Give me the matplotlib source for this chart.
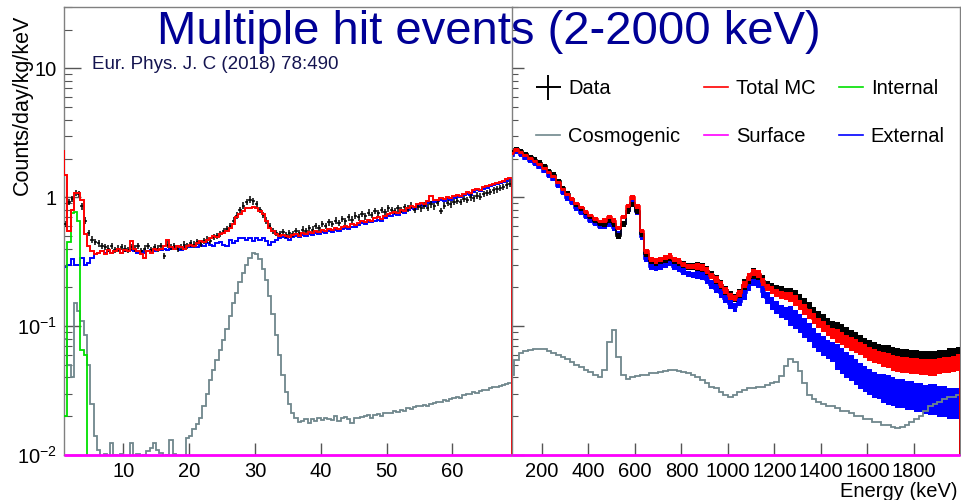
import numpy as np
import matplotlib
matplotlib.use("Agg")
import matplotlib.pyplot as plt
from matplotlib.lines import Line2D
from matplotlib.ticker import FixedLocator, FixedFormatter, LogLocator, NullFormatter

plt.rcParams['font.family'] = ['Liberation Sans', 'DejaVu Sans']
plt.rcParams['mathtext.fontset'] = 'custom'
plt.rcParams['mathtext.rm'] = 'Liberation Sans'
plt.rcParams['mathtext.it'] = 'Liberation Sans:italic'
plt.rcParams['mathtext.bf'] = 'Liberation Sans:bold'

# ---- low energy part, 0.5 keV bins from 0.5 to 69 keV ----
lo_edges = np.arange(0.5, 69.01, 0.5)

mc_low = [
    2.3, 1.5, 0.55, 0.80, 1.08, 1.08, 0.95, 0.52, 0.42, 0.38,
    0.36, 0.37, 0.38, 0.36, 0.39, 0.37, 0.38, 0.40, 0.37, 0.39,
    0.38, 0.46, 0.40, 0.38, 0.36, 0.34, 0.38, 0.37, 0.40, 0.39,
    0.40, 0.42, 0.47, 0.41, 0.40, 0.42, 0.41, 0.40, 0.42, 0.43,
    0.42, 0.44, 0.46, 0.45, 0.47, 0.48, 0.50, 0.49, 0.52, 0.53,
    0.55, 0.58, 0.62, 0.70, 0.74, 0.79, 0.82, 0.83, 0.84, 0.82,
    0.78, 0.74, 0.66, 0.58, 0.55, 0.52, 0.50, 0.51, 0.50, 0.49,
    0.51, 0.52, 0.50, 0.53, 0.52, 0.54, 0.53, 0.55, 0.54, 0.56,
    0.55, 0.57, 0.56, 0.58, 0.57, 0.59, 0.60, 0.59, 0.62, 0.61,
    0.63, 0.65, 0.64, 0.67, 0.66, 0.69, 0.70, 0.68, 0.72, 0.74,
    0.75, 0.77, 0.76, 0.80, 0.79, 0.83, 0.85, 0.84, 0.88, 0.90,
    0.89, 0.93, 1.03, 0.95, 0.96, 0.98, 0.97, 1.00, 0.99, 1.02,
    1.04, 1.03, 1.07, 1.10, 1.08, 1.13, 1.16, 1.14, 1.20, 1.22,
    1.25, 1.27, 1.30, 1.32, 1.35, 1.38, 1.42]

ext_low = [
    0.27, 0.29, 0.30, 0.33, 0.30, 0.30, 0.34, 0.30, 0.31, 0.34,
    0.36, 0.37, 0.38, 0.37, 0.38, 0.37, 0.38, 0.39, 0.37, 0.38,
    0.38, 0.39, 0.38, 0.37, 0.38, 0.37, 0.38, 0.39, 0.38, 0.39,
    0.39, 0.40, 0.39, 0.40, 0.41, 0.40, 0.39, 0.41, 0.42, 0.41,
    0.42, 0.41, 0.43, 0.42, 0.44, 0.43, 0.42, 0.44, 0.45, 0.43,
    0.42, 0.47, 0.44, 0.46, 0.48, 0.48, 0.47, 0.48, 0.46, 0.48,
    0.47, 0.48, 0.46, 0.43, 0.45, 0.47, 0.48, 0.49, 0.48, 0.47,
    0.49, 0.50, 0.49, 0.51, 0.50, 0.52, 0.51, 0.53, 0.52, 0.54,
    0.53, 0.55, 0.54, 0.56, 0.55, 0.57, 0.58, 0.57, 0.59, 0.59,
    0.61, 0.63, 0.62, 0.64, 0.64, 0.66, 0.67, 0.66, 0.69, 0.71,
    0.72, 0.74, 0.73, 0.77, 0.76, 0.80, 0.82, 0.81, 0.85, 0.87,
    0.86, 0.90, 0.92, 0.92, 0.93, 0.95, 0.94, 0.97, 0.96, 0.99,
    1.01, 1.00, 1.04, 1.07, 1.05, 1.10, 1.13, 1.11, 1.17, 1.19,
    1.22, 1.24, 1.27, 1.29, 1.32, 1.35, 1.38]

data_low = [
    np.nan, 0.62, 0.92, 0.97, 1.08, 1.06, 0.85, 0.66, 0.53, 0.47,
    0.45, 0.44, 0.42, 0.41, 0.40, 0.42, 0.39, 0.40, 0.41, 0.40,
    0.39, 0.41, 0.40, 0.42, 0.38, 0.40, 0.42, 0.39, 0.41, 0.40,
    0.42, 0.35, 0.43, 0.41, 0.42, 0.40, 0.41, 0.43, 0.42, 0.44,
    0.43, 0.45, 0.44, 0.46, 0.47, 0.46, 0.49, 0.50, 0.52, 0.55,
    0.57, 0.60, 0.66, 0.72, 0.80, 0.86, 0.92, 0.96, 0.93, 0.88,
    0.80, 0.73, 0.66, 0.60, 0.55, 0.53, 0.52, 0.54, 0.51, 0.53,
    0.52, 0.55, 0.53, 0.56, 0.55, 0.58, 0.56, 0.60, 0.58, 0.62,
    0.60, 0.64, 0.62, 0.66, 0.63, 0.68, 0.65, 0.70, 0.67, 0.72,
    0.70, 0.74, 0.71, 0.76, 0.73, 0.78, 0.75, 0.80, 0.77, 0.82,
    0.80, 0.78, 0.82, 0.80, 0.84, 0.82, 0.86, 0.80, 0.84, 0.82,
    0.86, 0.83, 0.88, 0.85, 0.90, 0.78, 0.86, 0.90, 0.88, 0.92,
    0.94, 0.92, 0.97, 0.95, 1.00, 0.98, 1.03, 1.01, 1.06, 1.08,
    1.10, 1.13, 1.15, 1.18, 1.20, 1.24, 1.28]

cosmo_low = [
    0.09, 0.08, 0.05, 0.04, 0.15, 0.13, 0.11, 0.085, 0.05, 0.025,
    0.014, 0.011, 0.0095, 0.0102, 0.0098, 0.0125, 0.0100, 0.0096, 0.0101, 0.0099,
    0.0097, 0.0123, 0.0098, 0.0102, 0.0095, 0.0100, 0.0108, 0.0114, 0.0125, 0.0110,
    0.0104, 0.0098, 0.0100, 0.0130, 0.0101, 0.0096, 0.0099, 0.0095, 0.0135, 0.0140,
    0.0160, 0.0175, 0.0195, 0.024, 0.030, 0.038, 0.046, 0.055, 0.065, 0.078,
    0.095, 0.12, 0.15, 0.18, 0.22, 0.26, 0.30, 0.34, 0.37, 0.365,
    0.33, 0.28, 0.23, 0.17, 0.125, 0.085, 0.060, 0.042, 0.031, 0.025,
    0.021, 0.0195, 0.018, 0.0185, 0.019, 0.0178, 0.0190, 0.0185, 0.0192, 0.0188,
    0.0195, 0.019, 0.0188, 0.0200, 0.0185, 0.0192, 0.0198, 0.019, 0.0178, 0.0195,
    0.0195, 0.0198, 0.020, 0.0205, 0.0195, 0.0203, 0.0208, 0.020, 0.021, 0.0212,
    0.021, 0.0218, 0.0214, 0.0225, 0.022, 0.0232, 0.0228, 0.0236, 0.024, 0.0238,
    0.0245, 0.0242, 0.025, 0.0255, 0.026, 0.0256, 0.0265, 0.0262, 0.027, 0.0275,
    0.028, 0.0278, 0.029, 0.0295, 0.030, 0.031, 0.0305, 0.0315, 0.032, 0.0322,
    0.033, 0.0335, 0.034, 0.0345, 0.035, 0.0355, 0.036]

# internal (L/K shell lines) only shows up below 5 keV
internal_edges = lo_edges[:11]
internal_low = [0.02, 0.02, 0.45, 0.75, 0.77, 0.66, 0.065, 0.06, 0.0, 0.0]

surface_low_edges = [1.0, 69.0]
surface_low = [0.01]

# ---- high energy part, 20 keV bins from 60 to 2000 keV ----
hi_edges = np.arange(60, 2001, 20)

mc_high = [
    2.2, 2.33, 2.22, 2.1, 2.0, 1.9, 1.8, 1.68, 1.55, 1.45,
    1.3, 1.15, 1.05, 0.97, 0.89, 0.83, 0.77, 0.72, 0.68, 0.65,
    0.66, 0.70, 0.66, 0.58, 0.70, 0.86, 1.0, 0.85, 0.55, 0.38,
    0.33, 0.32, 0.33, 0.34, 0.35, 0.33, 0.32, 0.30, 0.29, 0.29,
    0.29, 0.285, 0.27, 0.245, 0.23, 0.21, 0.19, 0.17, 0.165, 0.18,
    0.21, 0.24, 0.26, 0.255, 0.22, 0.2, 0.19, 0.18, 0.175, 0.172,
    0.168, 0.158, 0.146, 0.135, 0.124, 0.114, 0.106, 0.099, 0.093, 0.088,
    0.084, 0.080, 0.076, 0.073, 0.070, 0.067, 0.064, 0.061, 0.059, 0.057,
    0.055, 0.054, 0.052, 0.051, 0.050, 0.050, 0.049, 0.049, 0.048, 0.048,
    0.048, 0.048, 0.049, 0.050, 0.050, 0.051, 0.052]

data_high = [
    2.25, 2.38, 2.28, 2.17, 2.06, 1.96, 1.86, 1.74, 1.6, 1.5,
    1.34, 1.18, 1.07, 0.97, 0.88, 0.82, 0.76, 0.70, 0.66, 0.62,
    0.62, 0.66, 0.62, 0.50, 0.62, 0.78, 0.88, 0.78, 0.52, 0.36,
    0.32, 0.31, 0.32, 0.33, 0.34, 0.32, 0.31, 0.30, 0.29, 0.29,
    0.29, 0.285, 0.27, 0.25, 0.23, 0.21, 0.19, 0.175, 0.165, 0.18,
    0.21, 0.235, 0.255, 0.25, 0.225, 0.205, 0.195, 0.19, 0.185, 0.18,
    0.175, 0.167, 0.156, 0.145, 0.134, 0.124, 0.116, 0.109, 0.102, 0.097,
    0.092, 0.088, 0.083, 0.079, 0.076, 0.072, 0.069, 0.066, 0.064, 0.062,
    0.060, 0.059, 0.057, 0.056, 0.055, 0.055, 0.054, 0.054, 0.053, 0.053,
    0.053, 0.053, 0.054, 0.054, 0.055, 0.055, 0.056]

ext_high = [
    2.1, 2.25, 2.12, 2.0, 1.9, 1.8, 1.7, 1.58, 1.46, 1.37,
    1.22, 1.08, 0.98, 0.90, 0.82, 0.76, 0.70, 0.66, 0.62, 0.59,
    0.60, 0.62, 0.58, 0.52, 0.62, 0.78, 0.90, 0.77, 0.49, 0.33,
    0.29, 0.285, 0.29, 0.30, 0.31, 0.29, 0.28, 0.265, 0.255, 0.25,
    0.25, 0.245, 0.23, 0.21, 0.195, 0.18, 0.163, 0.148, 0.14, 0.155,
    0.18, 0.21, 0.23, 0.22, 0.185, 0.165, 0.15, 0.14, 0.13, 0.125,
    0.12, 0.113, 0.105, 0.097, 0.089, 0.081, 0.075, 0.070, 0.066, 0.063,
    0.058, 0.054, 0.050, 0.047, 0.044, 0.041, 0.039, 0.037, 0.035, 0.034,
    0.033, 0.032, 0.031, 0.030, 0.030, 0.029, 0.029, 0.028, 0.028, 0.027,
    0.027, 0.027, 0.026, 0.026, 0.025, 0.025, 0.025]

cosmo_high = [
    0.042, 0.055, 0.062, 0.064, 0.065, 0.066, 0.067, 0.066, 0.064, 0.062,
    0.060, 0.058, 0.056, 0.053, 0.050, 0.048, 0.046, 0.044, 0.042, 0.040,
    0.046, 0.075, 0.093, 0.058, 0.042, 0.039, 0.040, 0.041, 0.042, 0.042,
    0.043, 0.043, 0.044, 0.045, 0.046, 0.046, 0.045, 0.044, 0.043, 0.042,
    0.040, 0.038, 0.036, 0.034, 0.033, 0.031, 0.029, 0.028, 0.029, 0.031,
    0.032, 0.033, 0.033, 0.034, 0.034, 0.035, 0.036, 0.037, 0.041, 0.049,
    0.056, 0.053, 0.045, 0.036, 0.029, 0.027, 0.026, 0.025, 0.024, 0.024,
    0.023, 0.022, 0.022, 0.021, 0.020, 0.020, 0.019, 0.019, 0.018, 0.018,
    0.017, 0.017, 0.0165, 0.0163, 0.0165, 0.017, 0.018, 0.019, 0.020, 0.022,
    0.024, 0.025, 0.026, 0.027, 0.028, 0.028, 0.029]

# bin-to-bin scatter (multiplicative half width), one value per 200 keV
mc_scatter = [1.03, 1.03, 1.04, 1.05, 1.06, 1.07, 1.10, 1.13, 1.15, 1.16]
data_scatter = [1.04, 1.04, 1.05, 1.06, 1.08, 1.10, 1.14, 1.18, 1.20, 1.22]
ext_scatter = [1.03, 1.04, 1.05, 1.06, 1.08, 1.12, 1.19, 1.26, 1.30, 1.32]

surface_high_edges = [70.0, 2000.0]
surface_high = [0.01]

y_ticks = [0.01, 0.1, 1, 10]
y_ticklabels = ['$10^{-2}$', '$10^{-1}$', '1', '10']
lo_xticks = [10, 20, 30, 40, 50, 60]
hi_xticks = [200, 400, 600, 800, 1000, 1200, 1400, 1600, 1800]

C_DATA = 'black'
C_MC = '#ff0000'
C_INT = '#00e000'
C_COSMO = '#6f878c'
C_SURF = '#ff00ff'
C_EXT = '#0000ff'
C_FRAME = '#808080'

fig = plt.figure(figsize=(9.61, 5.0), dpi=100)
ax1 = fig.add_axes([64 / 961, 45 / 500, 447.7 / 961, 448 / 500])
ax2 = fig.add_axes([511.7 / 961, 45 / 500, 448.8 / 961, 448 / 500], sharey=ax1)

# left panel
ax1.stairs(ext_low, lo_edges, color=C_EXT, lw=1.4, zorder=2)
ax1.stairs(cosmo_low, lo_edges, color=C_COSMO, lw=1.3, zorder=2.5)
ax1.stairs(internal_low, internal_edges, color=C_INT, lw=1.3, zorder=3)
d = np.array(data_low)
lo_centers = 0.5 * (lo_edges[1:] + lo_edges[:-1])
ax1.errorbar(lo_centers, d, xerr=0.25, yerr=[d - d / 1.06, d * 1.06 - d],
             fmt='none', ecolor=C_DATA, elinewidth=1.1, zorder=3.5)
ax1.stairs(mc_low, lo_edges, color=C_MC, lw=1.4, zorder=4)
ax1.stairs(surface_low, surface_low_edges, baseline=None, color=C_SURF,
           lw=2, zorder=6, clip_on=False)

# right panel: bands show the bin-to-bin scatter of the fine binned spectra
nbin = len(hi_edges) - 1
for vals, spread, col, z in [(ext_high, ext_scatter, C_EXT, 2),
                             (data_high, data_scatter, C_DATA, 3.5),
                             (mc_high, mc_scatter, C_MC, 4)]:
    v = np.array(vals)
    s = np.repeat(spread, 10)[:nbin]
    ax2.stairs(v * s, hi_edges, baseline=v / s, fill=True, color=col,
               lw=0, zorder=z)
    ax2.stairs(v, hi_edges, color=col, lw=1.2, zorder=z)
ax2.stairs(cosmo_high, hi_edges, color=C_COSMO, lw=1.3, zorder=2.5)
ax2.stairs(surface_high, surface_high_edges, baseline=None, color=C_SURF,
           lw=2, zorder=6, clip_on=False)

for ax in (ax1, ax2):
    ax.set_yscale('log')
    for sp in ax.spines.values():
        sp.set_color(C_FRAME)
        sp.set_linewidth(1.0)
    ax.tick_params(axis='both', which='both', direction='in',
                   colors='#555555', labelcolor='black', labelsize=14.5)
    ax.tick_params(axis='x', which='major', length=9, width=1, pad=5,
                   top=False)
    ax.tick_params(axis='x', which='minor', bottom=False, top=False)

ax1.set_ylim(0.01, 30)
ax1.set_xlim(1.0, 69.0)
ax2.set_xlim(70, 2000)

ax1.yaxis.set_major_locator(FixedLocator(y_ticks))
ax1.yaxis.set_major_formatter(FixedFormatter(y_ticklabels))
ax1.yaxis.set_minor_locator(LogLocator(base=10, subs=np.arange(2, 10)))
ax1.yaxis.set_minor_formatter(NullFormatter())
ax1.tick_params(axis='y', which='major', length=12, width=1, pad=5,
                right=False)
ax1.tick_params(axis='y', which='minor', length=6, width=0.8, right=False)
ax1.spines['right'].set_visible(False)
ax1.xaxis.set_major_locator(FixedLocator(lo_xticks))

ax2.yaxis.set_minor_locator(LogLocator(base=10, subs=np.arange(2, 10)))
ax2.tick_params(axis='y', which='major', length=8.5, width=1,
                labelleft=False, right=False)
ax2.tick_params(axis='y', which='minor', length=4.3, width=0.8,
                labelleft=False, right=False)
ax2.xaxis.set_major_locator(FixedLocator(hi_xticks))

# texts
fig.text(489 / 961, 1 - 44 / 500, 'Multiple hit events (2-2000 keV)',
         ha='center', va='baseline', fontsize=34, color='#000096', zorder=10)
fig.text(92 / 961, 1 - 69 / 500, 'Eur. Phys. J. C (2018) 78:490',
         ha='left', va='baseline', fontsize=13.5, color='#141450')
fig.text(22 / 961, 1 - 15 / 500, 'Counts/day/kg/keV', rotation=90,
         ha='center', va='top', fontsize=15.5)
fig.text(958 / 961, 1 - 497 / 500, 'Energy (keV)', ha='right',
         va='baseline', fontsize=14.5)

handles = [
    Line2D([], [], color=C_DATA, marker='+', markersize=18, mew=1.4, ls='none'),
    Line2D([], [], color=C_COSMO, lw=1.2),
    Line2D([], [], color=C_MC, lw=1.2),
    Line2D([], [], color=C_SURF, lw=1.2),
    Line2D([], [], color=C_INT, lw=1.2),
    Line2D([], [], color=C_EXT, lw=1.2),
]
labels = ['Data', 'Cosmogenic', 'Total MC', 'Surface', 'Internal', 'External']
fig.legend(handles, labels, loc='upper left',
           bbox_to_anchor=(536 / 961, 1 - 79 / 500), ncol=3, frameon=False,
           fontsize=14.5, handlelength=1.2, handletextpad=0.4,
           columnspacing=1.15, labelspacing=1.45, borderpad=0, borderaxespad=0)

fig.savefig('out.png', dpi=100)
